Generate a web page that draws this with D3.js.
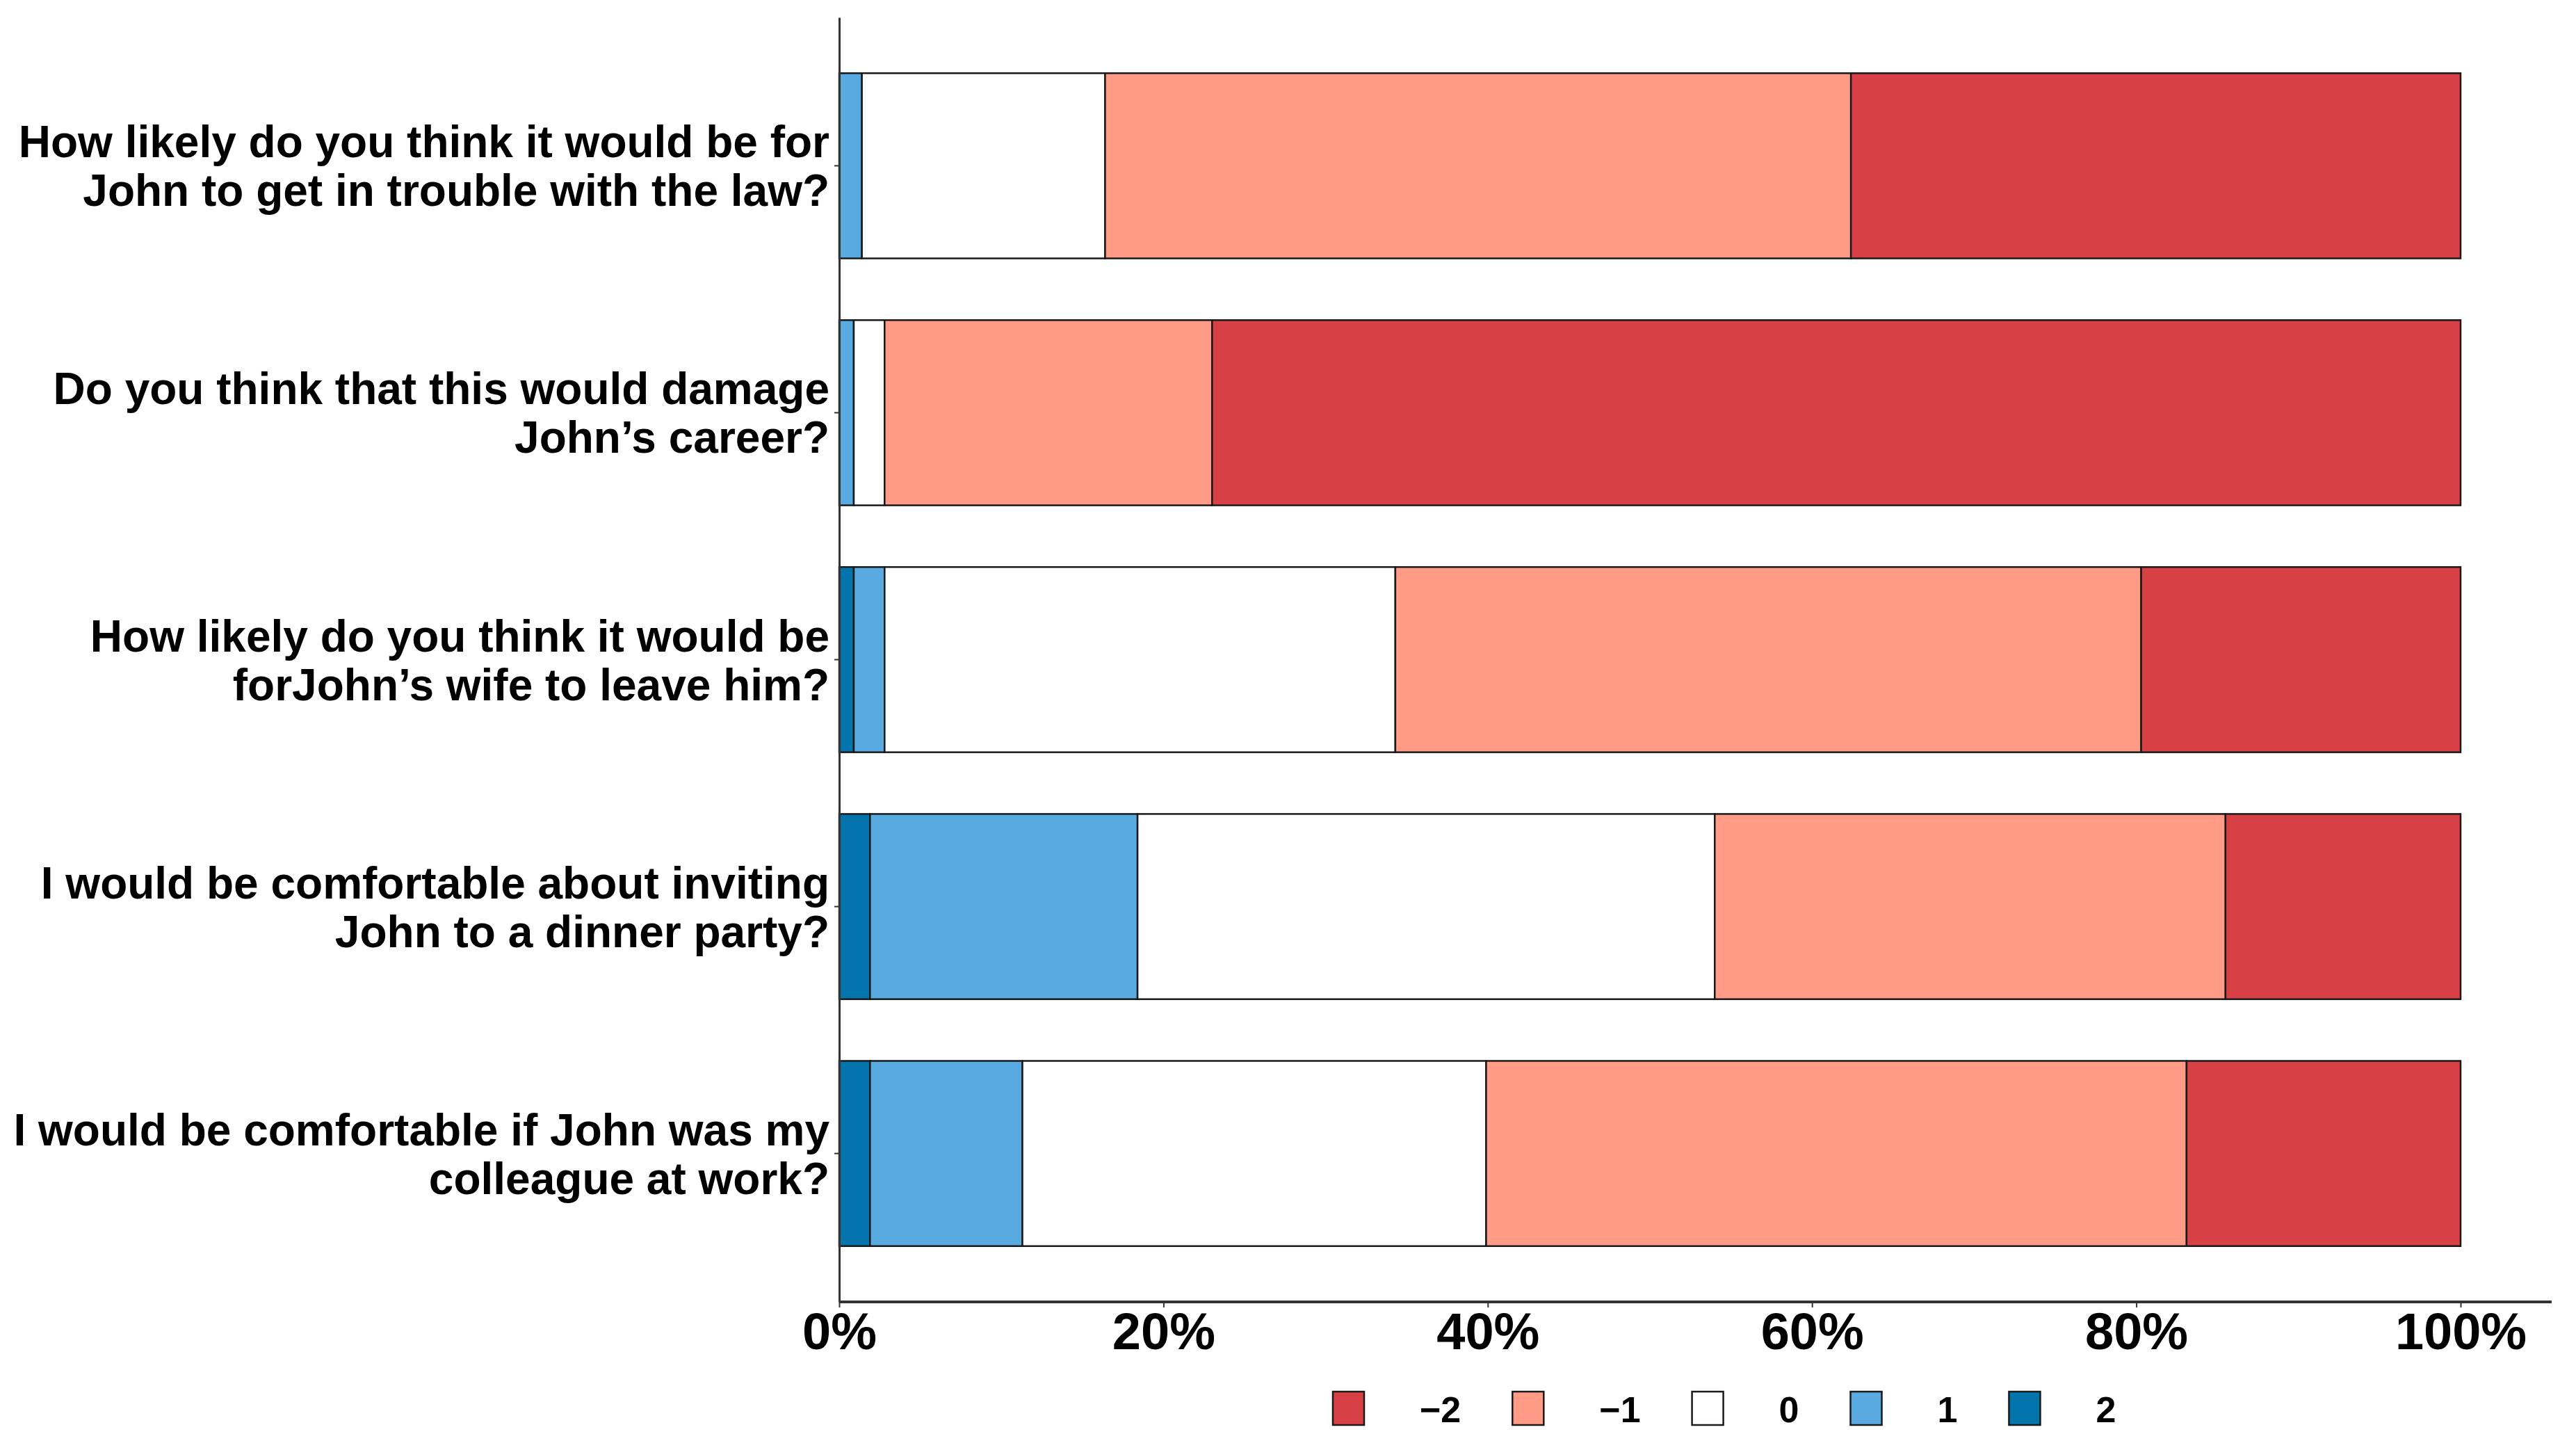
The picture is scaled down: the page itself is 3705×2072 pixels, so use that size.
<!DOCTYPE html>
<html>
<head>
<meta charset="utf-8">
<script src="https://cdn.jsdelivr.net/npm/d3@7"></script>
<style>
  body { margin: 0; background: #fff; }
  text { font-family: "Liberation Sans", Arial, sans-serif; font-weight: bold; fill: #000; }
</style>
</head>
<body>
<script>
const width = 3705;
const height = 2072;

// question labels, two lines each, top to bottom
const questions = [
    ["How likely do you think it would be for", "John to get in trouble with the law?"],
    ["Do you think that this would damage", "John\u2019s career?"],
    ["How likely do you think it would be", "forJohn\u2019s wife to leave him?"],
    ["I would be comfortable about inviting", "John to a dinner party?"],
    ["I would be comfortable if John was my", "colleague at work?"]
];

// answer levels, legend order
const levels = ["-2", "-1", "0", "1", "2"];
const levelColors = ["#d74045", "#ff9b87", "#ffffff", "#58aae0", "#0474ac"];
const legendLabels = ["\u22122", "\u22121", "0", "1", "2"];

// percentage of answers per question
const pctMinus2 = [37.6, 77.0, 19.7, 14.5, 16.9];
const pctMinus1 = [46.0, 20.2, 46.0, 31.5, 43.2];
const pctZero   = [15.0, 1.9, 31.5, 35.6, 28.6];
const pctPlus1  = [1.4, 0.9, 1.9, 16.5, 9.4];
const pctPlus2  = [0.0, 0.0, 0.9, 1.9, 1.9];

const xTicks = [0, 20, 40, 60, 80, 100];

const margin = {left: 1207, right: 3539, top: 25, bottom: 1872, axisEnd: 3670};

let rows = questions.map(function(q, i) {
    return {
        id: i,
        lines: q,
        "-2": pctMinus2[i],
        "-1": pctMinus1[i],
        "0": pctZero[i],
        "1": pctPlus1[i],
        "2": pctPlus2[i]
    };
});

// stack from positive (left) to negative (right)
let stackKeys = ["2", "1", "0", "-1", "-2"];
let series = d3.stack().keys(stackKeys)(rows);

let color = d3.scaleOrdinal().domain(levels).range(levelColors);

let scaleX = d3.scaleLinear()
    .domain([0, 100])
    .range([margin.left, margin.right]);

let scaleY = d3.scaleBand()
    .domain(rows.map(function(d) { return d.id; }))
    .range([margin.top, margin.bottom])
    .paddingInner(0.25)
    .paddingOuter(0.226);

let svg = d3.select("body").append("svg")
    .attr("width", width)
    .attr("height", height);

// bars
svg.append("g")
    .selectAll("g")
    .data(series)
    .enter().append("g")
    .attr("fill", function(s) { return color(s.key); })
    .selectAll("rect")
    .data(function(s) { return s.filter(function(d) { return d[1] - d[0] > 0; }); })
    .enter().append("rect")
    .attr("x", function(d) { return scaleX(d[0]); })
    .attr("y", function(d) { return scaleY(d.data.id); })
    .attr("width", function(d) { return scaleX(d[1]) - scaleX(d[0]); })
    .attr("height", scaleY.bandwidth())
    .attr("stroke", "#1a1a1a")
    .attr("stroke-width", 2.5);

// y axis
let yAxis = svg.append("g")
    .attr("transform", "translate(" + margin.left + ",0)")
    .call(d3.axisLeft(scaleY).tickSize(7).tickSizeOuter(0).tickFormat(""));
yAxis.select(".domain").attr("stroke", "#333").attr("stroke-width", 3);
yAxis.selectAll(".tick line").attr("stroke", "#333").attr("stroke-width", 2);

let labelFont = 64;
let lineGap = 70;
svg.append("g")
    .selectAll("text")
    .data(rows)
    .enter().append("text")
    .attr("text-anchor", "end")
    .attr("font-size", labelFont)
    .attr("x", margin.left - 14)
    .attr("y", function(d) { return scaleY(d.id) + scaleY.bandwidth() / 2; })
    .each(function(d) {
        let t = d3.select(this);
        let cy = scaleY(d.id) + scaleY.bandwidth() / 2;
        d.lines.forEach(function(line, k) {
            t.append("tspan")
                .attr("x", margin.left - 14)
                .attr("y", cy - 12 + k * lineGap)
                .text(line);
        });
    });

// x axis
let xAxis = svg.append("g")
    .attr("transform", "translate(0," + margin.bottom + ")")
    .call(d3.axisBottom(scaleX).tickValues(xTicks).tickSize(8).tickSizeOuter(0)
        .tickFormat(function(d) { return d + "%"; }));
xAxis.select(".domain").remove();
xAxis.append("line")
    .attr("x1", margin.left)
    .attr("x2", margin.axisEnd)
    .attr("stroke", "#333")
    .attr("stroke-width", 4);
xAxis.selectAll(".tick line").attr("stroke", "#333").attr("stroke-width", 2);
xAxis.selectAll(".tick text")
    .attr("y", 68)
    .attr("dy", 0)
    .attr("font-size", 74)
    .attr("font-family", "Liberation Sans, Arial, sans-serif")
    .attr("font-weight", "bold")
    .attr("fill", "#000");

// legend
let legend = svg.append("g").attr("transform", "translate(1917,2001)");
let lx = 0;
levels.forEach(function(lv, i) {
    let item = legend.append("g").attr("transform", "translate(" + lx + ",0)");
    item.append("rect")
        .attr("width", 45)
        .attr("height", 48)
        .attr("fill", color(lv))
        .attr("stroke", "#1a1a1a")
        .attr("stroke-width", 2.5);
    let txt = item.append("text")
        .attr("x", 125)
        .attr("y", 44)
        .attr("font-size", 52)
        .text(legendLabels[i]);
    let w = txt.node().getComputedTextLength();
    lx += 125 + w + 74;
});
</script>
</body>
</html>
